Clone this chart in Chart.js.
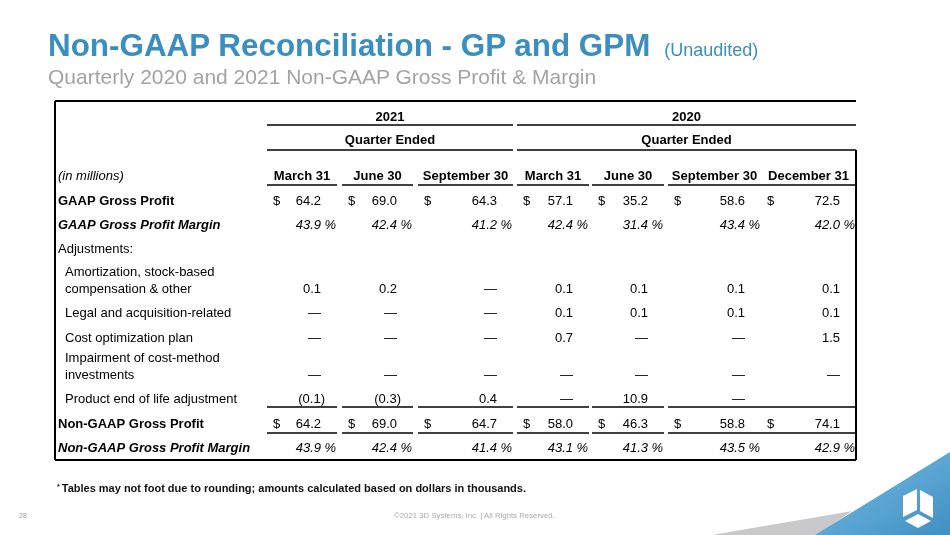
<!DOCTYPE html>
<html>
<head>
<meta charset="utf-8">
<title>Non-GAAP Reconciliation - GP and GPM</title>
<script src="https://cdn.jsdelivr.net/npm/chart.js@4.4.1/dist/chart.umd.min.js"></script>
<style>
    body { margin: 0; width: 950px; height: 535px; overflow: hidden; background: #fff; position: relative;
           font-family: "Liberation Sans", Arial, sans-serif; }
    #corner, #table { position: absolute; left: 0; top: 0; }
    .txt { position: absolute; white-space: nowrap; line-height: 1; }
    #title { left: 48px; top: 30px; font-size: 31.4px; font-weight: bold; color: #3b8ec0; }
    #title span { font-size: 18px; font-weight: normal; margin-left: 14px; }
    #subtitle { left: 48px; top: 66px; font-size: 21px; color: #a3a3a3; }
    #note { left: 57px; top: 483px; font-size: 11px; font-weight: bold; color: #111; }
    #note sup { font-size: 7px; vertical-align: 3px; margin-right: 2px; }
    #page { left: 19px; top: 512px; font-size: 7px; color: #999; }
    #copy { left: 394px; top: 512px; font-size: 7.8px; color: #aaa; }
</style>
</head>
<body>
<svg id="corner" width="950" height="535">
    <defs>
        <linearGradient id="blue" x1="0" y1="0" x2="1" y2="1">
            <stop offset="0" stop-color="#74b6de"/>
            <stop offset="0.55" stop-color="#5aa5d3"/>
            <stop offset="1" stop-color="#3f8fc2"/>
        </linearGradient>
    </defs>
    <polygon points="712,535 852,511 818,535" fill="#c9c9cb"/>
    <polygon points="950,452 815,535 950,535" fill="url(#blue)"/>
    <polygon points="903,496 917,489 917,510 903,517" fill="#fff"/>
    <polygon points="920,490 933,497 933,518 920,511" fill="#fff"/>
    <polygon points="905,521 918,514 931,521 918,528" fill="#fff"/>
</svg>
<canvas id="table" width="950" height="535"></canvas>
<div class="txt" id="title">Non-GAAP Reconciliation - GP and GPM<span>(Unaudited)</span></div>
<div class="txt" id="subtitle">Quarterly 2020 and 2021 Non-GAAP Gross Profit &amp; Margin</div>
<div class="txt" id="note"><sup>*</sup>Tables may not foot due to rounding; amounts calculated based on dollars in thousands.</div>
<div class="txt" id="page">28</div>
<div class="txt" id="copy">©2021 3D Systems, Inc. | All Rights Reserved.</div>

<script>
// ---- data ----
const YEARS = ["2021", "2020"];
const YEAR_QUARTERS = [3, 4];
const QUARTERS = ["March 31", "June 30", "September 30", "March 31", "June 30", "September 30", "December 31"];

const GAAP_GP = [64.2, 69.0, 64.3, 57.1, 35.2, 58.6, 72.5];
const GAAP_GPM = [43.9, 42.4, 41.2, 42.4, 31.4, 43.4, 42.0];
const AMORT_SBC = [0.1, 0.2, 0, 0.1, 0.1, 0.1, 0.1];
const LEGAL_ACQ = [0, 0, 0, 0.1, 0.1, 0.1, 0.1];
const COST_OPT = [0, 0, 0, 0.7, 0, 0, 1.5];
const IMPAIRMENT = [0, 0, 0, 0, 0, 0, 0];
const PRODUCT_EOL = [-0.1, -0.3, 0.4, 0, 10.9, 0, null];
const NON_GAAP_GP = [64.2, 69.0, 64.7, 58.0, 46.3, 58.8, 74.1];
const NON_GAAP_GPM = [43.9, 42.4, 41.4, 43.1, 41.3, 43.5, 42.9];

// ---- layout (table units, origin at the top-left of the frame) ----
const TABLE_W = 801;
const TABLE_H = 359;
const COL_SEG = [[212, 282], [287, 358], [363, 458], [462, 534], [537, 609], [613, 706], [706, 801]];
const HEAD_Y = { year: 16, quarter: 39.5, column: 75.5 };
const RULE_Y = { year: 24, quarter: 49, column: 84, preTotal: 306, total: 332 };
const LINE_GAP = 17;
const FONT = "'Liberation Sans', Arial, sans-serif";

const rows = [
    { label: ["GAAP Gross Profit"], style: "bold", indent: 3, y: 100, kind: "money", values: GAAP_GP },
    { label: ["GAAP Gross Profit Margin"], style: "italic bold", indent: 3, y: 124, kind: "pct", values: GAAP_GPM },
    { label: ["Adjustments:"], style: "", indent: 3, y: 148.5, kind: "none", values: [] },
    { label: ["Amortization, stock-based", "compensation & other"], style: "", indent: 10, y: 188, kind: "adj", values: AMORT_SBC },
    { label: ["Legal and acquisition-related"], style: "", indent: 10, y: 212.5, kind: "adj", values: LEGAL_ACQ },
    { label: ["Cost optimization plan"], style: "", indent: 10, y: 237, kind: "adj", values: COST_OPT },
    { label: ["Impairment of cost-method", "investments"], style: "", indent: 10, y: 274, kind: "adj", values: IMPAIRMENT },
    { label: ["Product end of life adjustment"], style: "", indent: 10, y: 298, kind: "adj", values: PRODUCT_EOL },
    { label: ["Non-GAAP Gross Profit"], style: "bold", indent: 3, y: 323, kind: "money", values: NON_GAAP_GP },
    { label: ["Non-GAAP Gross Profit Margin"], style: "italic bold", indent: 3, y: 347.5, kind: "pct", values: NON_GAAP_GPM }
];

function fmt(v) {
    if (v === 0) return "\u2014";
    if (v < 0) return "(" + Math.abs(v).toFixed(1) + ")";
    return v.toFixed(1);
}

const datasets = rows.map(r => ({
    label: r.label.join(" "),
    kind: r.kind,
    data: r.values.map((v, j) => ({ x: COL_SEG[j][1] - 16, y: r.y, v: v }))
}));

const tablePlugin = {
    id: "reconTable",
    afterDraw(chart) {
        const { ctx, scales: { x, y } } = chart;
        const px = v => x.getPixelForValue(v);
        const py = v => y.getPixelForValue(v);
        const hline = (a, b, yy, w) => {
            ctx.lineWidth = w;
            ctx.beginPath();
            ctx.moveTo(px(a), py(yy));
            ctx.lineTo(px(b), py(yy));
            ctx.stroke();
        };
        ctx.save();
        ctx.fillStyle = "#000";
        ctx.strokeStyle = "#000";
        ctx.textBaseline = "middle";

        // frame
        hline(0, TABLE_W, 0, 2);
        hline(0, TABLE_W, TABLE_H, 2);
        ctx.beginPath();
        ctx.moveTo(px(0), py(0)); ctx.lineTo(px(0), py(TABLE_H));
        ctx.moveTo(px(TABLE_W), py(RULE_Y.quarter)); ctx.lineTo(px(TABLE_W), py(TABLE_H));
        ctx.stroke();

        // year and "Quarter Ended" headers
        let first = 0;
        YEARS.forEach((yr, k) => {
            const a = COL_SEG[first][0];
            const b = COL_SEG[first + YEAR_QUARTERS[k] - 1][1];
            const c = px((a + b) / 2);
            ctx.font = "bold 13px " + FONT;
            ctx.textAlign = "center";
            ctx.fillText(yr, c, py(HEAD_Y.year));
            ctx.fillText("Quarter Ended", c, py(HEAD_Y.quarter));
            hline(a, b, RULE_Y.year, 1.6);
            hline(a, b, RULE_Y.quarter, 1.6);
            first += YEAR_QUARTERS[k];
        });

        // quarter headers and column rules
        QUARTERS.forEach((q, j) => {
            const [a, b] = COL_SEG[j];
            ctx.font = "bold 13px " + FONT;
            ctx.textAlign = "center";
            ctx.fillText(q, px((a + b) / 2), py(HEAD_Y.column));
            hline(a, b, RULE_Y.column, 1.6);
            hline(a, b, RULE_Y.preTotal, 1.6);
            hline(a, b, RULE_Y.total, 1.6);
        });

        ctx.textAlign = "left";
        ctx.font = "italic 13px " + FONT;
        ctx.fillText("(in millions)", px(3), py(HEAD_Y.column));

        // row labels
        rows.forEach(r => {
            ctx.font = (r.style ? r.style + " " : "") + "13px " + FONT;
            ctx.textAlign = "left";
            const n = r.label.length;
            r.label.forEach((t, i) => {
                ctx.fillText(t, px(r.indent), py(r.y) - (n - 1 - i) * LINE_GAP);
            });
        });

        // cells
        chart.data.datasets.forEach((ds, i) => {
            const meta = chart.getDatasetMeta(i);
            meta.data.forEach((pt, j) => {
                const v = ds.data[j].v;
                if (v === null || v === undefined) return;
                const [a, b] = COL_SEG[j];
                ctx.textAlign = "right";
                if (ds.kind === "pct") {
                    ctx.font = "italic 13px " + FONT;
                    ctx.fillText(v.toFixed(1), pt.x, pt.y);
                    ctx.fillText("%", px(b - 1), pt.y);
                    return;
                }
                ctx.font = "13px " + FONT;
                if (ds.kind === "money") {
                    ctx.textAlign = "left";
                    ctx.fillText("$", px(a + 6), pt.y);
                    ctx.textAlign = "right";
                }
                ctx.fillText(fmt(v), v < 0 ? pt.x + 4 : pt.x, pt.y);
            });
        });
        ctx.restore();
    }
};

new Chart(document.getElementById("table"), {
    type: "scatter",
    data: { datasets: datasets },
    options: {
        responsive: false,
        animation: false,
        events: [],
        layout: { padding: { left: 55, top: 101, right: 94, bottom: 75 } },
        elements: { point: { radius: 0 } },
        plugins: { legend: { display: false }, tooltip: { enabled: false } },
        scales: {
            x: { type: "linear", display: false, min: 0, max: TABLE_W },
            y: { type: "linear", display: false, min: 0, max: TABLE_H, reverse: true }
        }
    },
    plugins: [tablePlugin]
});
</script>
</body>
</html>
